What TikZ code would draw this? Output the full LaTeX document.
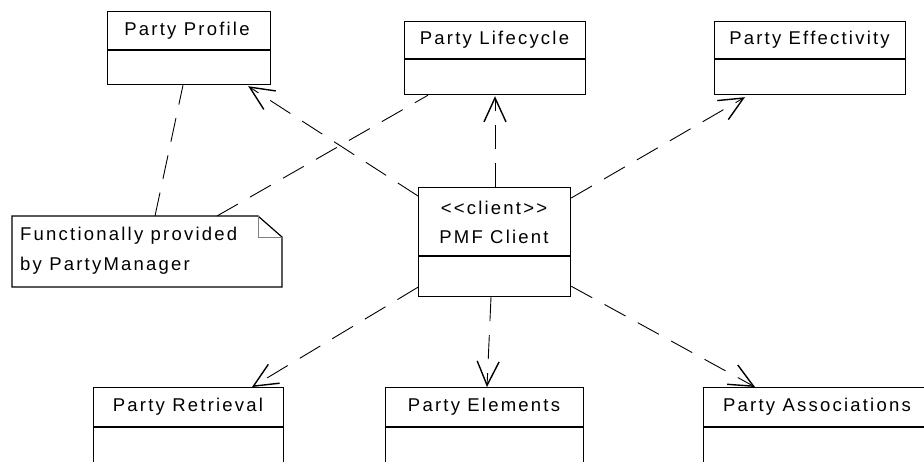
\documentclass[tikz,border=0pt]{standalone}
\usepackage{fontspec}
\setmainfont{Liberation Sans}[LetterSpace=12,Ligatures=NoCommon]
\usetikzlibrary{arrows.meta,calc}

\tikzset{
  cls/.style={draw, line width=1.2pt, inner sep=0pt, anchor=north west},
  title/.style={font=\fontsize{18.5}{20}\selectfont, inner sep=0pt},
  depline/.style={line width=0.9pt, dash pattern=on 24pt off 14pt,
    -{Straight Barb[length=24pt,width=22pt,line width=1.4pt]}},
  noteline/.style={line width=0.9pt, dash pattern=on 24pt off 14pt},
}

\begin{document}
\begin{tikzpicture}[x=1pt,y=-1pt]
\useasboundingbox (0,0) rectangle (924,461);
\clip (0,0) rectangle (924,461);

% class boxes: outline, compartment divider, name
\node[cls, minimum width=163pt, minimum height=73pt] (profile) at (107,11) {};
\draw[line width=1.2pt] (107,50) -- (270,50);
\node[title] (profileT) at (187,31) {Party Profile};

\node[cls, minimum width=181pt, minimum height=73pt] (lifecycle) at (404,21) {};
\draw[line width=1.2pt] (404,59) -- (585,59);
\node[title] (lifecycleT) at (494.5,40) {Party Lifecycle};

\node[cls, minimum width=191pt, minimum height=73pt] (effect) at (714,21) {};
\draw[line width=1.2pt] (714,59) -- (905,59);
\node[title] (effectT) at (809.5,40) {Party Effectivity};

\node[cls, minimum width=152pt, minimum height=109pt] (client) at (418,187) {};
\draw[line width=1.2pt] (418,256) -- (570,256);
\node[title] (clientS) at (494,208) {\textless{}\textless{}client\textgreater{}\textgreater{}};
\node[title] (clientN) at (494,237) {PMF Client};

\node[cls, minimum width=190pt, minimum height=90pt] (retrieval) at (93,387) {};
\draw[line width=1.2pt] (93,427) -- (283,427);
\node[title] (retrievalT) at (188,407) {Party Retrieval};

\node[cls, minimum width=198pt, minimum height=90pt] (elements) at (385,387) {};
\draw[line width=1.2pt] (385,427) -- (583,427);
\node[title] (elementsT) at (484,407) {Party Elements};

\node[cls, minimum width=240pt, minimum height=90pt] (assoc) at (703,387) {};
\draw[line width=1.2pt] (703,427) -- (943,427);
\node[title] (assocT) at (817,407) {Party Associations};

% note with folded corner
\draw[line width=1.2pt] (12,216) -- (258,216) -- (282,237) -- (282,287) -- (12,287) -- cycle;
\draw[line width=1pt, gray] (258,216) -- (258,237) -- (282,237);
\node[title, anchor=base west] (noteA) at (20,240) {Functionally provided};
\node[title, anchor=base west] (noteB) at (20,270) {by PartyManager};

% connector end points on the box borders
\coordinate (cP) at ($(client.north west)+(0,9)$);
\coordinate (cL) at ($(client.north west)+(77,0)$);
\coordinate (cE) at ($(client.north east)+(0,11)$);
\coordinate (cR) at ($(client.south west)+(0,-10)$);
\coordinate (cM) at ($(client.south west)+(73,0)$);
\coordinate (cA) at ($(client.south east)+(0,-11)$);
\coordinate (tP) at ($(profile.south east)+(-23,1)$);
\coordinate (tL) at ($(lifecycle.south west)+(91,1)$);
\coordinate (tE) at ($(effect.south west)+(31,2)$);
\coordinate (tR) at ($(retrieval.north west)+(159,0)$);
\coordinate (tM) at ($(elements.north west)+(102,0)$);
\coordinate (tA) at ($(assoc.north west)+(52,0)$);
\coordinate (nP) at (155,216);
\coordinate (nL) at (217,216);
\coordinate (pN) at ($(profile.south west)+(76,0)$);
\coordinate (lN) at ($(lifecycle.south west)+(24,0)$);

% dependencies of the client
\draw[depline] (cP) -- (tP);
\draw[depline] (cL) -- (tL);
\draw[depline] (cE) -- (tE);
\draw[depline] (cR) -- (tR);
\draw[depline] (cM) -- (tM);
\draw[depline] (cA) -- (tA);

% note anchors
\draw[noteline] (nP) -- (pN);
\draw[noteline] (nL) -- (lN);
\end{tikzpicture}
\end{document}
